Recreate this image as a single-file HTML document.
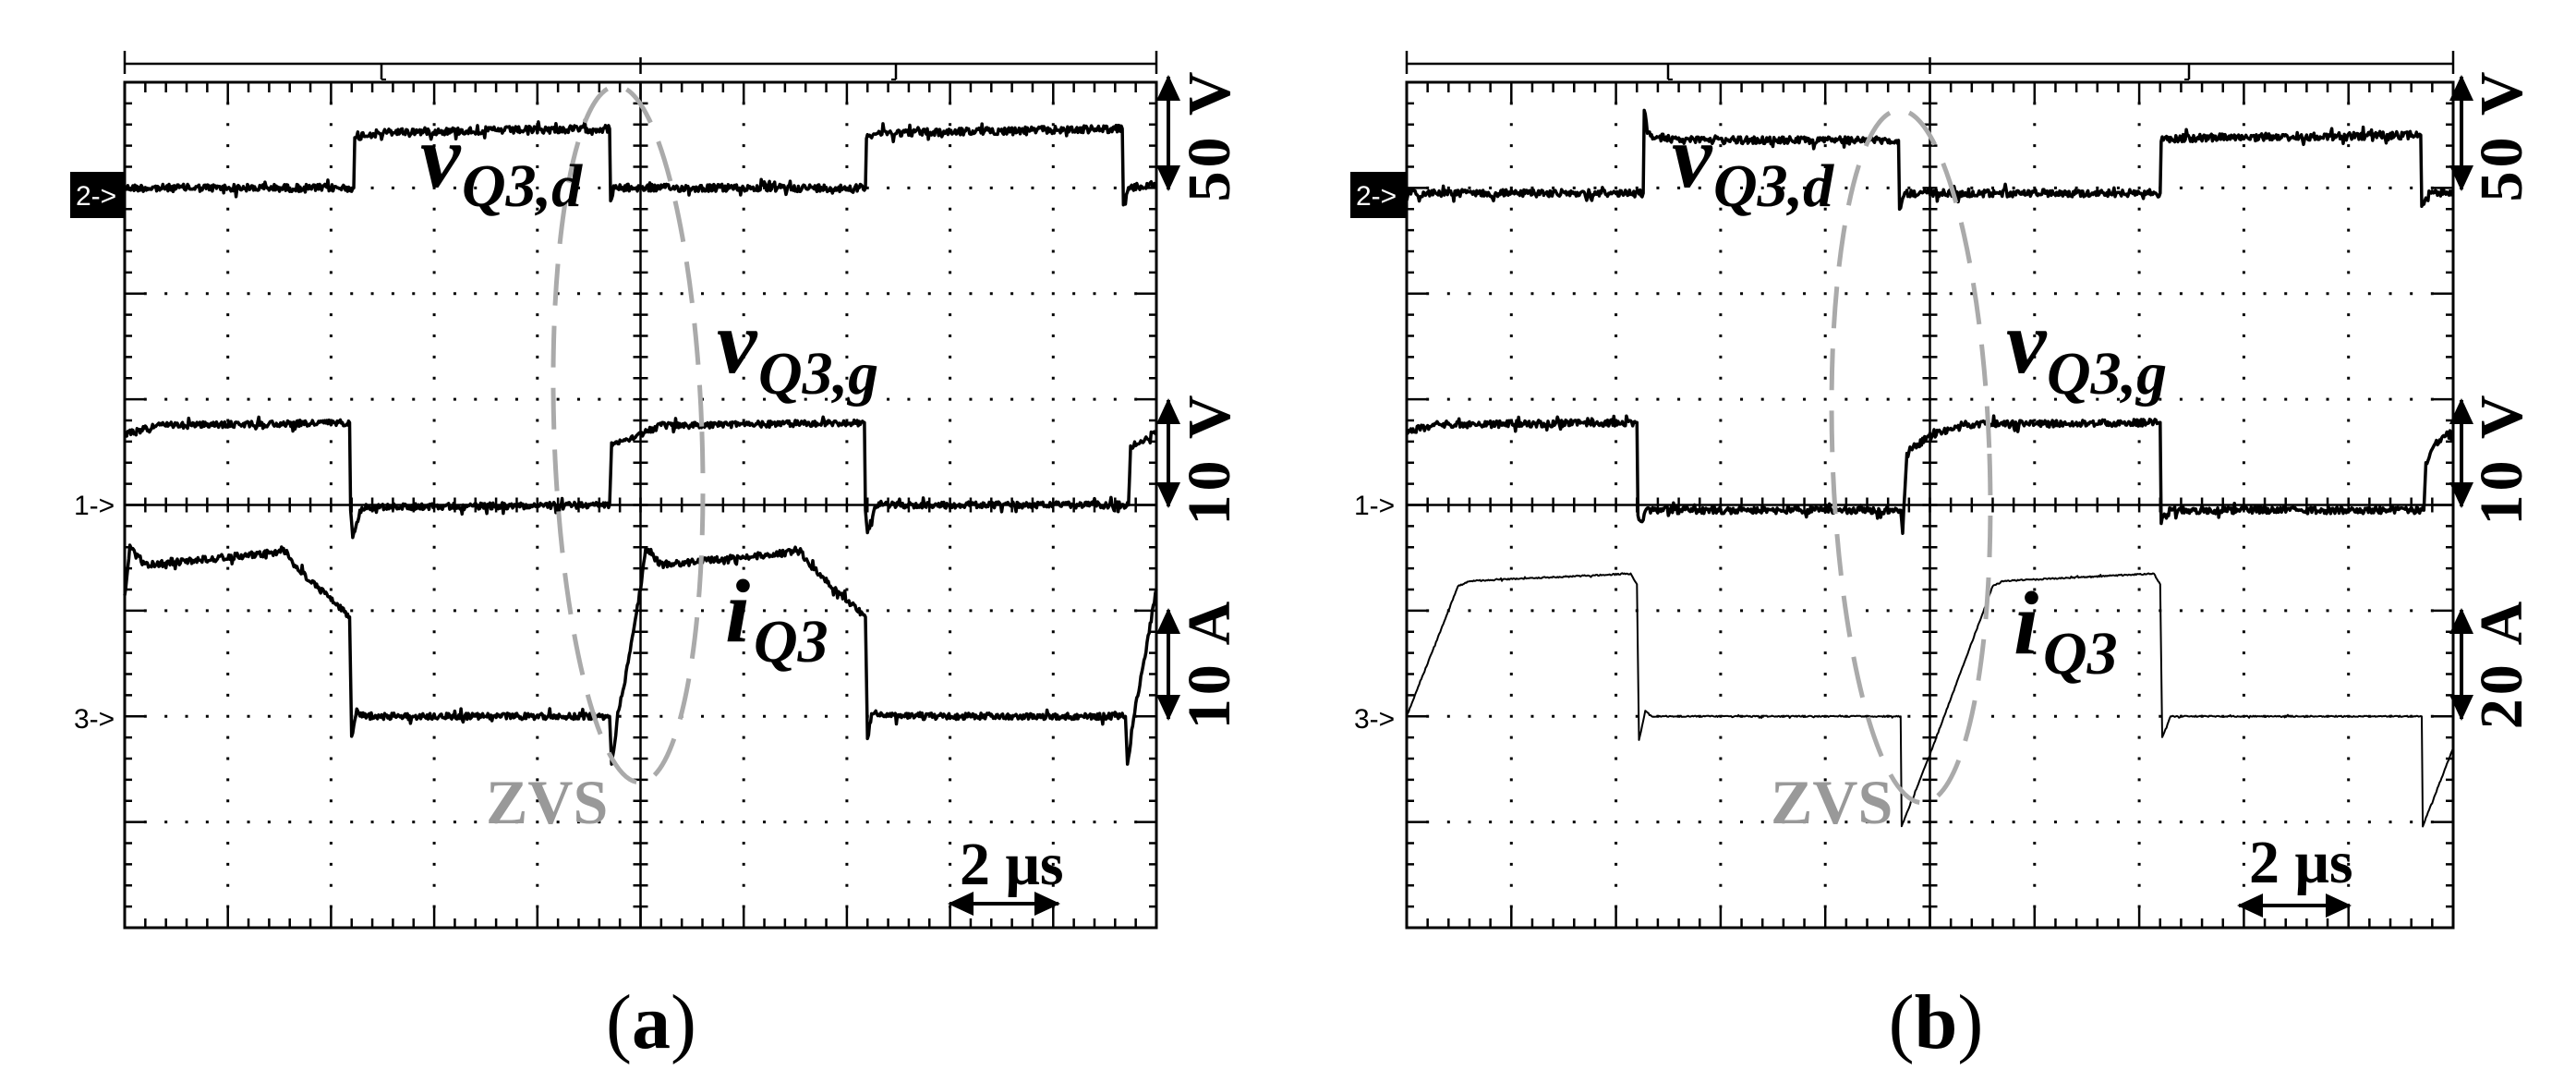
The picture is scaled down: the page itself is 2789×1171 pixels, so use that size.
<!DOCTYPE html>
<html><head><meta charset="utf-8"><style>
html,body{margin:0;padding:0;background:#fff;}
svg{display:block;}
.lab{font-family:"Liberation Serif",serif;font-weight:bold;font-style:italic;fill:#000;}
.up{font-family:"Liberation Serif",serif;font-weight:bold;fill:#000;}
.mk{font-family:"Liberation Sans",sans-serif;font-size:30px;}
</style></head><body>
<svg id="s" width="2789" height="1171" viewBox="0 0 2789 1171" xmlns="http://www.w3.org/2000/svg">
<g id="dyn"></g>
<rect x="76" y="186" width="59" height="50" fill="#000"/>
<text x="82" y="222" class="mk" fill="#fff">2-&gt;</text>
<text x="80" y="557" class="mk">1-&gt;</text>
<text x="80" y="788" class="mk">3-&gt;</text>
<rect x="1462" y="186" width="61" height="50" fill="#000"/>
<text x="1468" y="222" class="mk" fill="#fff">2-&gt;</text>
<text x="1466" y="557" class="mk">1-&gt;</text>
<text x="1466" y="788" class="mk">3-&gt;</text>
<ellipse cx="680" cy="470" rx="80" ry="377" fill="none" stroke="#aaa" stroke-width="5" stroke-dasharray="45 22" transform="rotate(-2 680 470)"/>
<ellipse cx="2069" cy="494" rx="85" ry="375" fill="none" stroke="#aaa" stroke-width="5" stroke-dasharray="45 22" transform="rotate(-2 2069 494)"/>
<text x="455" y="202" class="lab" font-size="98">v</text>
<text x="500" y="223" class="lab" font-size="66">Q3,d</text>
<text x="776" y="403" class="lab" font-size="98">v</text>
<text x="821" y="426" class="lab" font-size="66">Q3,g</text>
<text x="785" y="694" class="lab" font-size="98">i</text>
<text x="816" y="716" class="lab" font-size="66">Q3</text>
<text x="526" y="891" class="up" font-size="68" style="fill:#999">ZVS</text>
<text x="1039" y="957" class="up" font-size="66">2 μs</text>
<text x="1810" y="202" class="lab" font-size="98">v</text>
<text x="1855" y="223" class="lab" font-size="66">Q3,d</text>
<text x="2172" y="403" class="lab" font-size="98">v</text>
<text x="2216" y="426" class="lab" font-size="66">Q3,g</text>
<text x="2180" y="707" class="lab" font-size="98">i</text>
<text x="2212" y="729" class="lab" font-size="66">Q3</text>
<text x="1917" y="891" class="up" font-size="68" style="fill:#999">ZVS</text>
<text x="2435" y="955" class="up" font-size="66">2 μs</text>
<text class="up" font-size="66" text-anchor="middle" transform="translate(1331 146) rotate(-90)" letter-spacing="4">50 V</text>
<text class="up" font-size="66" text-anchor="middle" transform="translate(1331 496) rotate(-90)" letter-spacing="4">10 V</text>
<text class="up" font-size="66" text-anchor="middle" transform="translate(1331 718) rotate(-90)" letter-spacing="4">10 A</text>
<text class="up" font-size="66" text-anchor="middle" transform="translate(2730 146) rotate(-90)" letter-spacing="4">50 V</text>
<text class="up" font-size="66" text-anchor="middle" transform="translate(2730 496) rotate(-90)" letter-spacing="4">10 V</text>
<text class="up" font-size="66" text-anchor="middle" transform="translate(2730 718) rotate(-90)" letter-spacing="4">20 A</text>
<text x="705" y="1134" font-family="Liberation Serif, serif" font-size="84" text-anchor="middle">(<tspan font-weight="bold">a</tspan>)</text>
<text x="2096" y="1134" font-family="Liberation Serif, serif" font-size="84" text-anchor="middle">(<tspan font-weight="bold">b</tspan>)</text>
</svg>
<script>
(function(){
var g=document.getElementById("dyn"),out=[];
function L(x1,y1,x2,y2,w){out.push('<line x1="'+x1+'" y1="'+y1+'" x2="'+x2+'" y2="'+y2+'" stroke="#000" stroke-width="'+(w||2.5)+'"/>');}
var seed=12345;function rnd(){seed=(seed*1103515245+12345)%2147483648;return seed/2147483648;}
function panel(X0,W,Y0,H,br1,br2){
 var dx=W/10,dy=H/8;
 out.push('<rect x="'+X0+'" y="'+Y0+'" width="'+W+'" height="'+H+'" fill="none" stroke="#000" stroke-width="3"/>');
 for(var i=0;i<=50;i++){var x=X0+i*dx/5,maj=i%5==0;
  L(x,Y0,x,Y0+(maj?22:11));L(x,Y0+H,x,Y0+H-(maj?22:10));
  L(x,Y0+4*dy-8,x,Y0+4*dy+8);}
 for(var j=0;j<=40;j++){var y=Y0+j*dy/5,maj=j%5==0;
  L(X0,y,X0+(maj?23:8),y);L(X0+W,y,X0+W-(maj?23:8),y);
  L(X0+5*dx-8,y,X0+5*dx+8,y);}
 L(X0+5*dx,Y0,X0+5*dx,Y0+H,2.5);L(X0,Y0+4*dy,X0+W,Y0+4*dy,2.5);
 var d='';
 for(var i=1;i<10;i++){if(i==5)continue;for(var j=1;j<40;j++){d+='M'+(X0+i*dx-1.5)+' '+(Y0+j*dy/5-1.5)+'h3v3h-3z';}}
 for(var j=1;j<8;j++){if(j==4)continue;for(var i=1;i<50;i++){d+='M'+(X0+i*dx/5-1.5)+' '+(Y0+j*dy-1.5)+'h3v3h-3z';}}
 out.push('<path d="'+d+'" fill="#000"/>');
 L(X0,69,X0+W,69,2.5);L(X0,55,X0,80,2.5);L(X0+W,55,X0+W,80,2.5);
 L(X0+5*dx,62,X0+5*dx,80,2.5);
 L(br1,69,br1,86,2.5);L(br1,86,br1+5,86,2);L(br2,69,br2,86,2.5);L(br2,86,br2-5,86,2);
}
function trace(X0,W,Y0,H,pts,amp,sw){
 var dx=W/10,dy=H/8,s='';
 for(var k=0;k<pts.length-1;k++){
  var a=pts[k],b=pts[k+1],n=Math.max(1,Math.round((b[0]-a[0])/0.01));
  for(var t=0;t<n;t++){var f=t/n,x=a[0]+(b[0]-a[0])*f,y=a[1]+(b[1]-a[1])*f;
   var nz=(rnd()-0.5)*2*amp;if(rnd()<0.06)nz*=2.5;
   if(n<3)nz=0;
   s+=(X0+x*dx).toFixed(1)+','+(Y0+(y+nz)*dy).toFixed(1)+' ';}
 }
 var p=pts[pts.length-1];s+=(X0+p[0]*dx).toFixed(1)+','+(Y0+p[1]*dy).toFixed(1);
 out.push('<polyline points="'+s+'" fill="none" stroke="#000" stroke-width="'+sw+'" stroke-linejoin="round"/>');
}
function arrow(x1,y1,x2,y2){out.push('<line x1="'+x1+'" y1="'+y1+'" x2="'+x2+'" y2="'+y2+'" stroke="#000" stroke-width="4" marker-start="url(#ah2)" marker-end="url(#ah2)"/>');}
out.push('<defs><marker id="ah2" markerWidth="28" markerHeight="28" refX="26" refY="14" orient="auto-start-reverse" markerUnits="userSpaceOnUse" viewBox="0 0 28 28"><path d="M0,1 L28,14 L0,27 z" fill="#000"/></marker></defs>');
var A=[135,1117,89,915],B=[1523,1133,89,915];
panel(A[0],A[1],A[2],A[3],413,970);
panel(B[0],B[1],B[2],B[3],1806,2370);
trace(A[0],A[1],A[2],A[3],[[0,1],[2.22,1],[2.23,0.55],[2.3,0.5],[2.6,0.47],[4.0,0.45],[4.7,0.44],[4.71,1.12],[4.76,1.0],[7.18,1.0],[7.19,0.5],[7.3,0.48],[9.67,0.44],[9.68,1.18],[9.74,1.0],[10,0.97]],0.035,3.5);
trace(A[0],A[1],A[2],A[3],[[0,3.33],[0.3,3.25],[2.18,3.22],[2.19,4.05],[2.21,4.28],[2.3,4.02],[4.7,4.0],[4.72,3.43],[4.85,3.38],[5.0,3.33],[5.2,3.25],[7.17,3.22],[7.18,4.05],[7.2,4.28],[7.27,4.0],[9.73,4.0],[9.75,3.45],[9.9,3.38],[10,3.3]],0.03,3.5);
trace(A[0],A[1],A[2],A[3],[[0,4.85],[0.05,4.41],[0.2,4.57],[1.56,4.44],[1.62,4.55],[2.18,5.06],[2.2,6.2],[2.25,5.95],[2.32,6.0],[4.7,6.0],[4.72,6.46],[4.78,6.0],[4.86,5.6],[4.99,4.85],[5.05,4.41],[5.2,4.57],[6.56,4.44],[6.62,4.55],[7.18,5.06],[7.2,6.2],[7.25,5.95],[7.32,6.0],[9.7,6.0],[9.72,6.46],[9.78,6.0],[9.86,5.6],[10,4.8]],0.03,3.5);
trace(B[0],B[1],B[2],B[3],[[0,1.05],[2.26,1.05],[2.27,0.24],[2.3,0.5],[2.6,0.55],[4.7,0.55],[4.71,1.18],[4.76,1.05],[7.2,1.05],[7.21,0.55],[7.3,0.53],[9.69,0.5],[9.7,1.18],[9.8,1.05],[10,1.05]],0.035,3.5);
trace(B[0],B[1],B[2],B[3],[[0,3.3],[0.3,3.24],[2.2,3.22],[2.21,4.1],[2.23,4.18],[2.3,4.05],[4.72,4.05],[4.74,4.25],[4.78,3.5],[5.0,3.35],[5.3,3.24],[7.2,3.22],[7.21,4.15],[7.3,4.05],[9.72,4.05],[9.74,3.6],[9.85,3.4],[10,3.3]],0.032,3.5);
trace(B[0],B[1],B[2],B[3],[[0,6.0],[0.49,4.77],[0.6,4.72],[2.14,4.65],[2.2,4.75],[2.22,6.23],[2.28,5.95],[2.35,6.0],[4.72,6.0],[4.73,7.04],[5.0,6.36],[5.6,4.77],[5.7,4.72],[7.14,4.65],[7.2,4.75],[7.22,6.2],[7.3,6.0],[9.7,6.0],[9.71,7.04],[10,6.3]],0.006,2);
arrow(1265,83,1265,205);arrow(1265,433,1265,548);arrow(1265,660,1265,778);
arrow(2665,83,2665,205);arrow(2665,433,2665,548);arrow(2665,660,2665,778);
arrow(1028,978,1146,978);arrow(2424,980,2544,980);
g.innerHTML=out.join('');
})();
</script>
</body></html>
